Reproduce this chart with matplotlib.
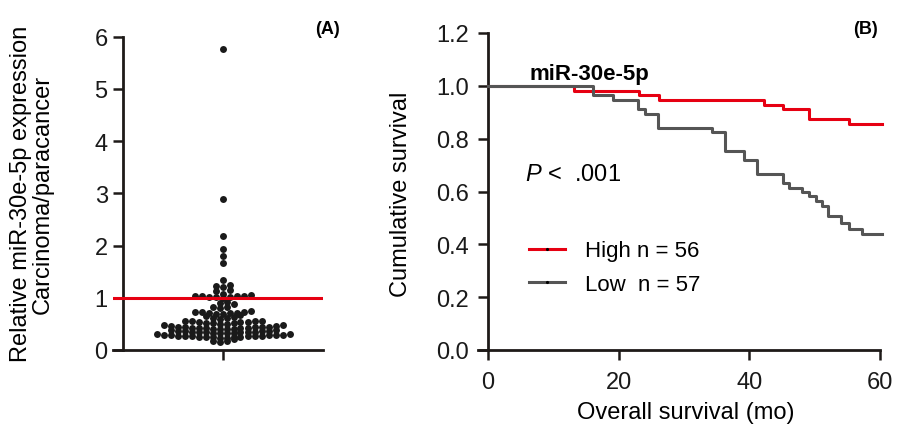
import numpy as np
import matplotlib
matplotlib.use('Agg')
import matplotlib.pyplot as plt
from matplotlib.lines import Line2D

plt.rcParams['font.family'] = ['Liberation Sans', 'DejaVu Sans']
plt.rcParams['mathtext.fontset'] = 'custom'
plt.rcParams['mathtext.it'] = 'Liberation Sans:italic'
plt.rcParams['mathtext.rm'] = 'Liberation Sans'

# --- data ---
# panel A: relative miR-30e-5p expression (carcinoma / paracancer), one value per patient
expr_values = [
    0.15, 0.17, 0.18,
    0.22, 0.23, 0.23, 0.24, 0.24, 0.25, 0.25, 0.25, 0.26, 0.26,
    0.26, 0.27, 0.27, 0.27, 0.28, 0.28, 0.28, 0.29, 0.29,
    0.31, 0.31, 0.32, 0.32, 0.33, 0.33, 0.34, 0.34, 0.34,
    0.35, 0.35, 0.35, 0.36, 0.36, 0.37, 0.37, 0.38, 0.38,
    0.40, 0.40, 0.41, 0.41, 0.42, 0.42, 0.43, 0.43, 0.43,
    0.44, 0.44, 0.44, 0.45, 0.45, 0.46, 0.46, 0.47, 0.47,
    0.49, 0.50, 0.51, 0.52, 0.52, 0.53, 0.54, 0.54, 0.55, 0.55, 0.56, 0.56,
    0.60, 0.61, 0.62, 0.64, 0.65,
    0.67, 0.68, 0.69, 0.70, 0.70, 0.71, 0.72, 0.72, 0.73, 0.74,
    0.80, 0.82, 0.83,
    0.88, 0.90, 0.91,
    1.00, 1.01, 1.02, 1.02, 1.03, 1.03, 1.04, 1.04, 1.05,
    1.08, 1.13, 1.15, 1.20, 1.22, 1.24, 1.35,
    1.66, 1.80, 1.94, 2.19, 2.90, 5.76,
]
cutoff = 1.0

# panel B: Kaplan-Meier curves (months, cumulative survival)
high_t = [0, 13.1, 23.1, 26.1, 42.2, 45.1, 49.2, 55.2, 60.3]
high_s = [1.0, 0.982, 0.964, 0.946, 0.929, 0.911, 0.875, 0.857, 0.857]
low_t = [0, 16.1, 19.2, 23.0, 24.0, 26.0, 34.3, 36.2, 39.2, 41.1, 45.1, 46.1,
         48.0, 49.1, 50.2, 51.1, 52.1, 54.1, 55.2, 57.2, 60.3]
low_s = [1.0, 0.965, 0.947, 0.912, 0.895, 0.842, 0.825, 0.754, 0.720, 0.667,
         0.632, 0.614, 0.599, 0.583, 0.565, 0.546, 0.509, 0.480, 0.457, 0.440, 0.440]
high_label = 'High n = 56'
low_label = 'Low  n = 57'

AX_COLOR = '#1e1a18'
RED = '#e60012'
GRAY = '#555555'
FS = 17


def row_offsets(values, row_height, spacing):
    """GraphPad-like scatter: group close values into rows, spread each row sideways"""
    vals = np.asarray(values)
    order = np.argsort(vals, kind='stable')
    offs = np.zeros(len(vals))
    rows, cur, start = [], [], None
    for i in order:
        if start is None or vals[i] - start > row_height:
            if cur:
                rows.append(cur)
            cur, start = [i], vals[i]
        else:
            cur.append(i)
    rows.append(cur)
    for r in rows:
        n = len(r)
        # alternate sides so neighbours in value are not all on one side
        slots = (np.arange(n) - (n - 1) / 2) * spacing
        slots = slots[np.argsort(np.abs(slots), kind='stable')]
        for k, i in enumerate(r):
            offs[i] = slots[k]
    return offs


def style_axes(ax, pad):
    for s in ['top', 'right']:
        ax.spines[s].set_visible(False)
    for s in ['left', 'bottom']:
        ax.spines[s].set_linewidth(2.0)
        ax.spines[s].set_color(AX_COLOR)
    ax.tick_params(direction='out', length=7, width=1.8, color=AX_COLOR,
                   labelsize=FS, pad=pad, labelcolor='#1a1a1a')


W, H = 907, 431
fig = plt.figure(figsize=(W / 100, H / 100), dpi=100)

# --- panel A ---
axA = fig.add_axes([113 / W, 80 / H, 210 / W, 313.3 / H])
offs = row_offsets(expr_values, 0.08, 7.0)
axA.plot(1 + offs / 200, expr_values, 'o', color='#1a1a1a', markersize=5,
         markeredgewidth=0, clip_on=False, zorder=3)
axA.axhline(cutoff, color=RED, linewidth=2.2, zorder=4)
axA.set_xlim(0.45, 1.5)
axA.set_ylim(0, 6)
axA.spines['left'].set_position(('data', 0.5))
axA.set_yticks(range(0, 7))
axA.set_xticks([1])
axA.set_xticklabels([''])
style_axes(axA, 4)
fig.text(32 / W, 1 - 194 / H, 'Relative miR-30e-5p expression\nCarcinoma/paracancer',
         rotation=90, ha='center', va='center', multialignment='center',
         fontsize=FS, linespacing=1.0)
fig.text(328 / W, 1 - 30 / H, '(A)', ha='center', va='center',
         fontsize=13, fontweight='bold')

# --- panel B ---
axB = fig.add_axes([477.6 / W, 80 / H, 402.4 / W, 317 / H])
axB.step(high_t, high_s, where='post', color=RED, linewidth=2.2, clip_on=False, zorder=3)
axB.step(low_t, low_s, where='post', color=GRAY, linewidth=2.2, clip_on=False, zorder=4)
axB.set_xlim(-1.6, 60)
axB.set_ylim(0, 1.2)
axB.spines['left'].set_position(('data', 0))
axB.set_xticks([0, 20, 40, 60])
yt = np.arange(0, 1.21, 0.2)
axB.set_yticks(yt)
axB.set_yticklabels([f'{v:.1f}' for v in yt])
style_axes(axB, 7)
axB.tick_params(axis='x', pad=8)
fig.text(686 / W, 1 - 413 / H, 'Overall survival (mo)', ha='center', va='center',
         fontsize=FS)
fig.text(401 / W, 1 - 194 / H, 'Cumulative survival', rotation=90, ha='center',
         va='center', fontsize=FS)

axB.text(0.279, 0.871, 'miR-30e-5p', transform=axB.transAxes, ha='center',
         va='center', fontsize=16, fontweight='bold')
axB.text(0.118, 0.555, r'$\it{P}$' + ' <  .001', transform=axB.transAxes,
         ha='left', va='center', fontsize=FS)

handles = [
    Line2D([], [], color=RED, linewidth=2.2, marker='.', markersize=2.5,
           markerfacecolor='k', markeredgecolor='k'),
    Line2D([], [], color=GRAY, linewidth=2.2, marker='.', markersize=2.5,
           markerfacecolor='k', markeredgecolor='k'),
]
axB.legend(handles, [high_label, low_label], loc='center left',
           bbox_to_anchor=(0.106, 0.26), frameon=False, fontsize=16,
           handlelength=1.6, handletextpad=0.9, labelspacing=0.55,
           borderaxespad=0)
fig.text(865 / W, 1 - 30 / H, '(B)', ha='center', va='center',
         fontsize=13, fontweight='bold')

fig.savefig('out.png', dpi=100)
